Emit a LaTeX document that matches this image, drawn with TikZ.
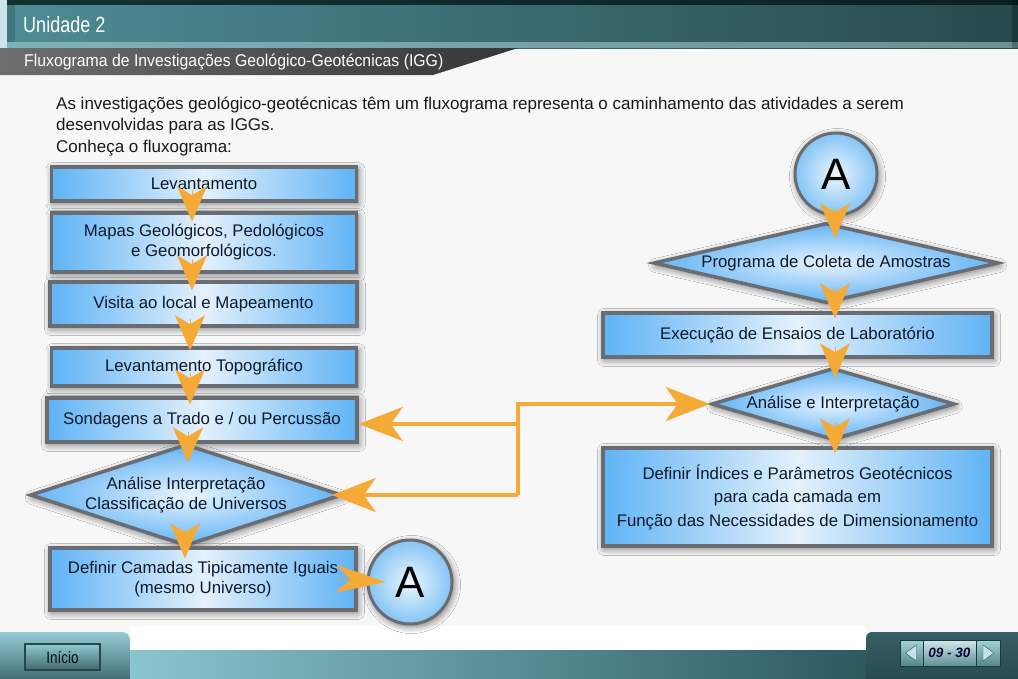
\documentclass[tikz,border=0pt]{standalone}
\usepackage{fontspec}
\setmainfont{Liberation Sans}
\newfontfamily\condf[FakeStretch=0.82]{Liberation Sans}
\newfontfamily\subf[FakeStretch=0.93]{Liberation Sans}
\usetikzlibrary{shapes.geometric,arrows.meta,shadows.blur,calc}
\definecolor{bgc}{HTML}{F7F7F7}
\definecolor{hdrL}{HTML}{4F8C95}
\definecolor{hdrR}{HTML}{264A4D}
\definecolor{subL}{HTML}{6E6E6E}
\definecolor{subR}{HTML}{363636}
\definecolor{bxb}{HTML}{5FB3F5}
\definecolor{bxl}{HTML}{E4F1FC}
\definecolor{dmo}{HTML}{62B3F4}
\definecolor{dmi}{HTML}{E8F4FF}
\definecolor{cro}{HTML}{84C4F4}
\definecolor{cri}{HTML}{ECF6FF}
\definecolor{bord}{HTML}{696C70}
\definecolor{txt}{HTML}{0E1A2C}
\definecolor{arrc}{HTML}{F5AA38}
\definecolor{ftL}{HTML}{7DBFC9}
\definecolor{ftD}{HTML}{2C585E}
\definecolor{ftR}{HTML}{25474B}
\begin{document}
\begin{tikzpicture}[x=1pt,y=-1pt,
  glow/.style={blur shadow={shadow xshift=1.5pt,shadow yshift=-2.5pt,shadow blur radius=7pt,shadow opacity=55,shadow blur steps=10}},
  box/.style={draw=bord,line width=3.5pt,left color=bxb,right color=bxb,middle color=bxl,
    text=txt,font=\fontsize{16.8}{20}\selectfont,align=center,inner sep=0pt,glow},
  dia/.style={diamond,draw=bord,line width=3.5pt,inner color=dmi,outer color=dmo,
    text=txt,font=\fontsize{16.8}{20}\selectfont,align=center,inner sep=0pt,glow},
  conn/.style={circle,draw=bord,line width=3pt,inner color=cri,outer color=cro,
    font=\fontsize{44}{44}\selectfont,inner sep=0pt,glow},
  vchev/.style={draw=arrc,line width=0.5pt,-{Stealth[length=35pt,width=30pt,inset=9pt]}},
  hchev/.style={draw=arrc,line width=0.5pt,-{Stealth[length=50pt,width=28pt,inset=15pt]}},
  harr/.style={draw=arrc,line width=4pt,line join=miter,-{Stealth[length=44pt,width=34pt,inset=12pt]}},
  bodytxt/.style={anchor=base west,inner sep=0pt,font=\fontsize{17}{20}\selectfont,text=black!90},
  navbtn/.style={draw=ftR!80!black,line width=1pt,top color=ftL!70!white,bottom color=ftL!70!black},
]
\useasboundingbox (0,0) rectangle (1018,678);
% background
\fill[bgc] (0,0) rectangle (1018,678);
\fill[white] (130,626) rectangle (866,650);
% header
\shade[left color=hdrL,right color=hdrR] (0,0) rectangle (1018,48);
\fill[black!85!teal,fill opacity=0.75] (0,0) rectangle (1018,5);
\fill[ftL!60!white,fill opacity=0.5] (0,42) rectangle (1018,48);
\fill[ftL!40!white] (0,0) rectangle (7,48);
\fill[black,fill opacity=0.15] (7,5) rectangle (15,42);
\fill[black,fill opacity=0.25] (1012,0) rectangle (1018,48);
\node[anchor=base west,inner sep=0pt,text=white,font=\condf\fontsize{22}{24}\selectfont] (unid) at (23,32) {Unidade 2};
% subtitle bar
\shade[left color=subL,right color=subR] (0,48) -- (518,48) -- (433,75) -- (0,75) -- cycle;
\node[anchor=base west,inner sep=0pt,text=white,font=\subf\fontsize{17}{20}\selectfont] (subt) at (24,66) {Fluxograma de Investigações Geológico-Geotécnicas (IGG)};
% intro text
\node[bodytxt] (t1) at (56,109) {As investigações geológico-geotécnicas têm um fluxograma representa o caminhamento das atividades a serem};
\node[bodytxt] (t2) at (56,130.5) {desenvolvidas para as IGGs.};
\node[bodytxt] (t3) at (56,152) {Conheça o fluxograma:};
% footer
\shade[left color=ftL!90!white,right color=ftD] (130,650) rectangle (870,690);
\shade[top color=ftL!80!white,bottom color=ftD,rounded corners=8pt] (-10,632) rectangle (130,690);
\shade[top color=ftR!80!ftL,bottom color=ftR,rounded corners=6pt] (866,632) rectangle (1030,690);
\node[draw=ftR,line width=1.5pt,top color=ftL!85!white,bottom color=ftD!90!white,minimum width=75pt,minimum height=26pt,inner sep=0pt,text=black!85!teal,font=\condf\fontsize{16.5}{18}\selectfont] (inicio) at (62.5,657) {Início};
\node[navbtn,minimum width=23pt,minimum height=26pt,inner sep=0pt] (prev) at (911.5,653) {};
\node[draw=ftR!80!black,line width=1pt,top color=ftL!35!white,bottom color=ftL!75!black,minimum width=53pt,minimum height=26pt,inner sep=0pt,text=black!80!blue,font=\bfseries\itshape\fontsize{13.5}{15}\selectfont] (pg) at (949.5,653) {09 - 30};
\node[navbtn,minimum width=24pt,minimum height=26pt,inner sep=0pt] (next) at (988,653) {};
\fill[ftL!45!white,draw=ftD,line width=0.4pt] ($(prev.center)+(-6,0)$) -- ($(prev.center)+(5,-8)$) -- ($(prev.center)+(5,8)$) -- cycle;
\fill[ftL!45!white,draw=ftD,line width=0.4pt] ($(next.center)+(6,0)$) -- ($(next.center)+(-5,-8)$) -- ($(next.center)+(-5,8)$) -- cycle;
% left column
\node[box,minimum width=305pt,minimum height=34pt] (lev) at (204,184) {Levantamento};
\node[box,minimum width=305pt,minimum height=59pt] (map) at (204,242.5) {Mapas Geológicos, Pedológicos\\ e Geomorfológicos.};
\node[box,minimum width=307pt,minimum height=44pt] (vis) at (203.5,304) {Visita ao local e Mapeamento};
\node[box,minimum width=305pt,minimum height=38pt] (topo) at (204,367) {Levantamento Topográfico};
\node[box,minimum width=310pt,minimum height=44pt] (sond) at (202,420) {Sondagens a Trado e / ou Percussão};
\node[dia,minimum width=307pt,minimum height=100pt,aspect=3.07] (anal1) at (186,495) {Análise Interpretação\\Classificação de Universos};
\node[box,minimum width=306pt,minimum height=62pt] (defc) at (203,579) {Definir Camadas Tipicamente Iguais\\(mesmo Universo)};
\node[conn,minimum size=84pt] (ca) at (410,582) {A};
% right column
\node[conn,minimum size=82pt] (cb) at (836,174) {A};
\node[dia,minimum width=345pt,minimum height=80pt,aspect=4.3] (prog) at (826,263) {Programa de Coleta de Amostras};
\node[box,minimum width=389pt,minimum height=44pt] (exec) at (797.5,335) {Execução de Ensaios de Laboratório};
\node[dia,minimum width=243pt,minimum height=72pt,aspect=3.4] (anal2) at (833,404) {Análise e Interpretação};
\node[box,minimum width=389pt,minimum height=98pt,font=\fontsize{16.8}{23.5}\selectfont] (defi) at (797.5,497) {Definir Índices e Parâmetros Geotécnicos\\para cada camada em\\Função das Necessidades de Dimensionamento};
% vertical chevrons
\draw[vchev] ([xshift=-12pt,yshift=13pt]lev.south) -- ([xshift=-12pt,yshift=-10pt]map.north);
\draw[vchev] ([xshift=-12pt,yshift=15pt]map.south) -- ([xshift=-11.5pt,yshift=-10pt]vis.north);
\draw[vchev] ([xshift=-13.5pt,yshift=9pt]vis.south) -- ([xshift=-14pt,yshift=-4pt]topo.north);
\draw[vchev] ([xshift=-14pt,yshift=15pt]topo.south) -- ([xshift=-12pt,yshift=-8pt]sond.north);
\draw[vchev] ([xshift=-14pt,yshift=12pt]sond.south) -- ([xshift=2pt,yshift=-20pt]anal1.north);
\draw[vchev] ([xshift=-1pt,yshift=20pt]anal1.south) -- ([xshift=-18pt,yshift=-12pt]defc.north);
\draw[vchev] ([xshift=-1pt,yshift=10pt]cb.south) -- ([xshift=9pt,yshift=-17pt]prog.north);
\draw[vchev] ([xshift=9pt,yshift=18pt]prog.south) -- ([xshift=37.5pt,yshift=-7pt]exec.north);
\draw[vchev] ([xshift=37.5pt,yshift=12pt]exec.south) -- ([xshift=2pt,yshift=-12pt]anal2.north);
\draw[vchev] ([xshift=2pt,yshift=20pt]anal2.south) -- ([xshift=37.5pt,yshift=-7pt]defi.north);
% horizontal connectors
\coordinate (jt) at (518,404);
\coordinate (jm) at (518,424);
\coordinate (jb) at (518,495);
\draw[harr] (jb) -- (jt) -- (anal2.west);
\draw[harr] (jm) -- (sond.east |- jm);
\draw[harr] (jb) -- ([xshift=-12pt]anal1.east);
\draw[hchev] ([xshift=-19pt]defc.east) -- ([xshift=19pt]ca.west);
\end{tikzpicture}
\end{document}
